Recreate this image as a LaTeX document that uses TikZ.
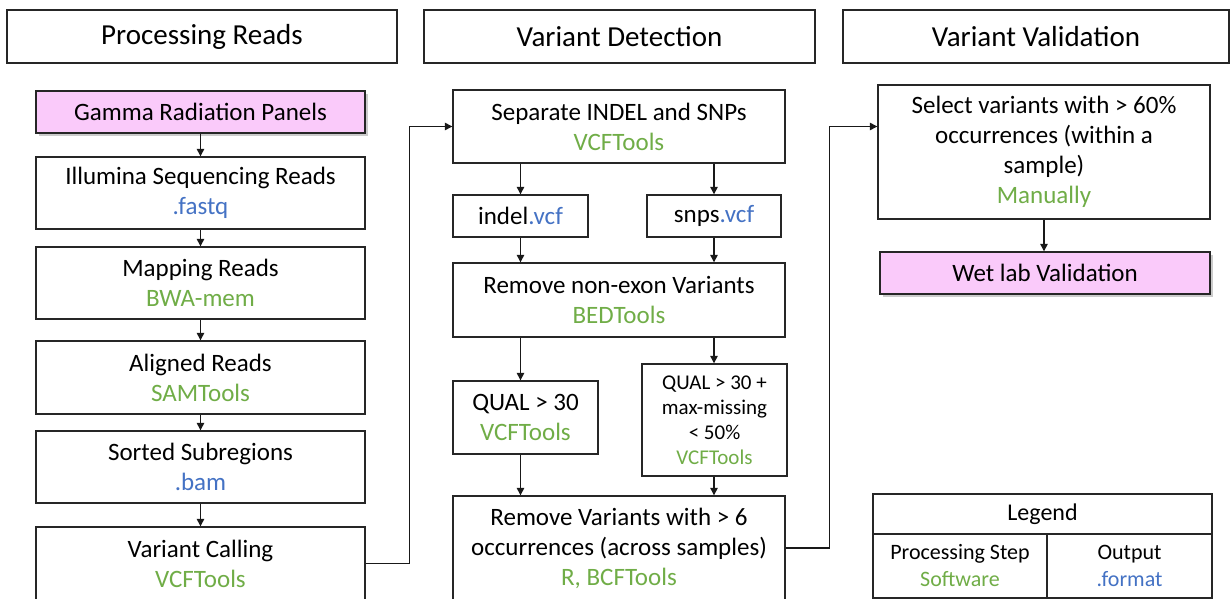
\documentclass[tikz,border=0pt]{standalone}
\usepackage{fontspec}
\setmainfont{Carlito}
\usetikzlibrary{arrows.meta,shadows,calc}
\definecolor{sw}{RGB}{112,173,71}
\definecolor{fmt}{RGB}{68,114,196}
\definecolor{pinkfill}{RGB}{250,202,250}
\begin{document}
\begin{tikzpicture}[x=1pt,y=-1pt,
  box/.style={draw=black!85, line width=1.4pt, rectangle, inner sep=0pt, align=center,
    font=\fontsize{25}{30}\selectfont, text=black},
  wh/.style 2 args={minimum width=#1pt, minimum height=#2pt},
  titlebox/.style={box, font=\fontsize{29}{34}\selectfont},
  pinkbox/.style={box, fill=pinkfill, drop shadow={shadow xshift=3pt, shadow yshift=-3pt, fill=black!40}},
  smallbox/.style={box, font=\fontsize{21}{25}\selectfont},
  legbox/.style={box, font=\fontsize{22}{27}\selectfont},
  arr/.style={draw=black!90, line width=1.3pt, -{Triangle[length=7.5pt,width=7.5pt]}},
  ]
\useasboundingbox (0,0) rectangle (1231,599);
\clip (0,0) rectangle (1231,599);
\fill[white] (0,0) rectangle (1231,599);

% titles
\node[titlebox, wh={390}{53}] (t1) at (202,36.5) {Processing Reads};
\node[titlebox, wh={391}{53}] (t2) at (619.5,36.5) {Variant Detection};
\node[titlebox, wh={386}{53}] (t3) at (1036,36.5) {Variant Validation};

% left column
\node[pinkbox, wh={329}{42}] (gamma) at (200.5,112) {Gamma Radiation Panels};
\node[box, wh={329}{72}] (illum) at (200.5,193) {Illumina Sequencing Reads\\\textcolor{fmt}{.fastq}};
\node[box, wh={329}{72}] (map) at (200.5,283) {Mapping Reads\\\textcolor{sw}{BWA-mem}};
\node[box, wh={329}{73}] (align) at (200.5,377.5) {Aligned Reads\\\textcolor{sw}{SAMTools}};
\node[box, wh={329}{72}] (sorted) at (200.5,467) {Sorted Subregions\\\textcolor{fmt}{.bam}};
\node[box, wh={329}{73}] (vc) at (200.5,563.5) {Variant Calling\\\textcolor{sw}{VCFTools}};

\draw[arr] (gamma) -- (illum);
\draw[arr] (illum) -- (map);
\draw[arr] (map) -- (align);
\draw[arr] (align) -- (sorted);
\draw[arr] (sorted) -- (vc);

% middle column
\node[box, wh={332}{73}] (sep) at (619,126.5) {Separate INDEL and SNPs\\\textcolor{sw}{VCFTools}};
\node[box, wh={135}{42}] (indel) at (520.5,216) {indel\textcolor{fmt}{.vcf}};
\node[box, wh={134}{42}] (snps) at (714,216) {snps\textcolor{fmt}{.vcf}};
\node[box, wh={332}{74}] (rne) at (619,300) {Remove non-exon Variants\\\textcolor{sw}{BEDTools}};
\node[box, wh={145}{73}] (qual) at (525.5,417.5) {QUAL {>} 30\\\textcolor{sw}{VCFTools}};
\node[smallbox, wh={145}{112}] (qual2) at (714.5,420) {QUAL {>} 30 +\\max-missing\\{<} 50\%\\\textcolor{sw}{VCFTools}};
\node[box, wh={332}{104}] (rv) at (619,548) {Remove Variants with {>} 6\\occurrences (across samples)\\\textcolor{sw}{R, BCFTools}};

\draw[arr] (sep.south -| indel) -- (indel);
\draw[arr] (sep.south -| snps) -- (snps);
\draw[arr] (indel) -- (indel |- rne.north);
\draw[arr] (snps) -- (snps |- rne.north);
\draw[arr] (rne.south -| indel) -- (indel |- qual.north);
\draw[arr] (rne.south -| snps) -- (snps |- qual2.north);
\draw[arr] (qual.south -| indel) -- (indel |- rv.north);
\draw[arr] (qual2.south -| snps) -- (snps |- rv.north);

% right column
\node[box, wh={332}{134}] (sel) at (1044,152) {Select variants with {>} 60\%\\occurrences (within a\\sample)\\\textcolor{sw}{Manually}};
\node[pinkbox, wh={330}{42}] (wet) at (1045,273) {Wet lab Validation};
\draw[arr] (sel.south) -- (sel.south |- wet.north);

% cross-column connectors
\draw[arr] (vc.east) -- ++(44,0) |- (sep.west);
\draw[arr] (rv.east) -- ++(44,0) |- (sel.west |- sep.west);

% legend
\node[legbox, wh={339}{40}, font=\fontsize{24}{28}\selectfont] (leg) at (1042.5,514) {Legend};
\node[legbox, wh={174}{64}] (legl) at (960,566) {Processing Step\\\textcolor{sw}{Software}};
\node[legbox, wh={165}{64}] (legr) at (1129.5,566) {Output\\\textcolor{fmt}{.format}};
\end{tikzpicture}
\end{document}
